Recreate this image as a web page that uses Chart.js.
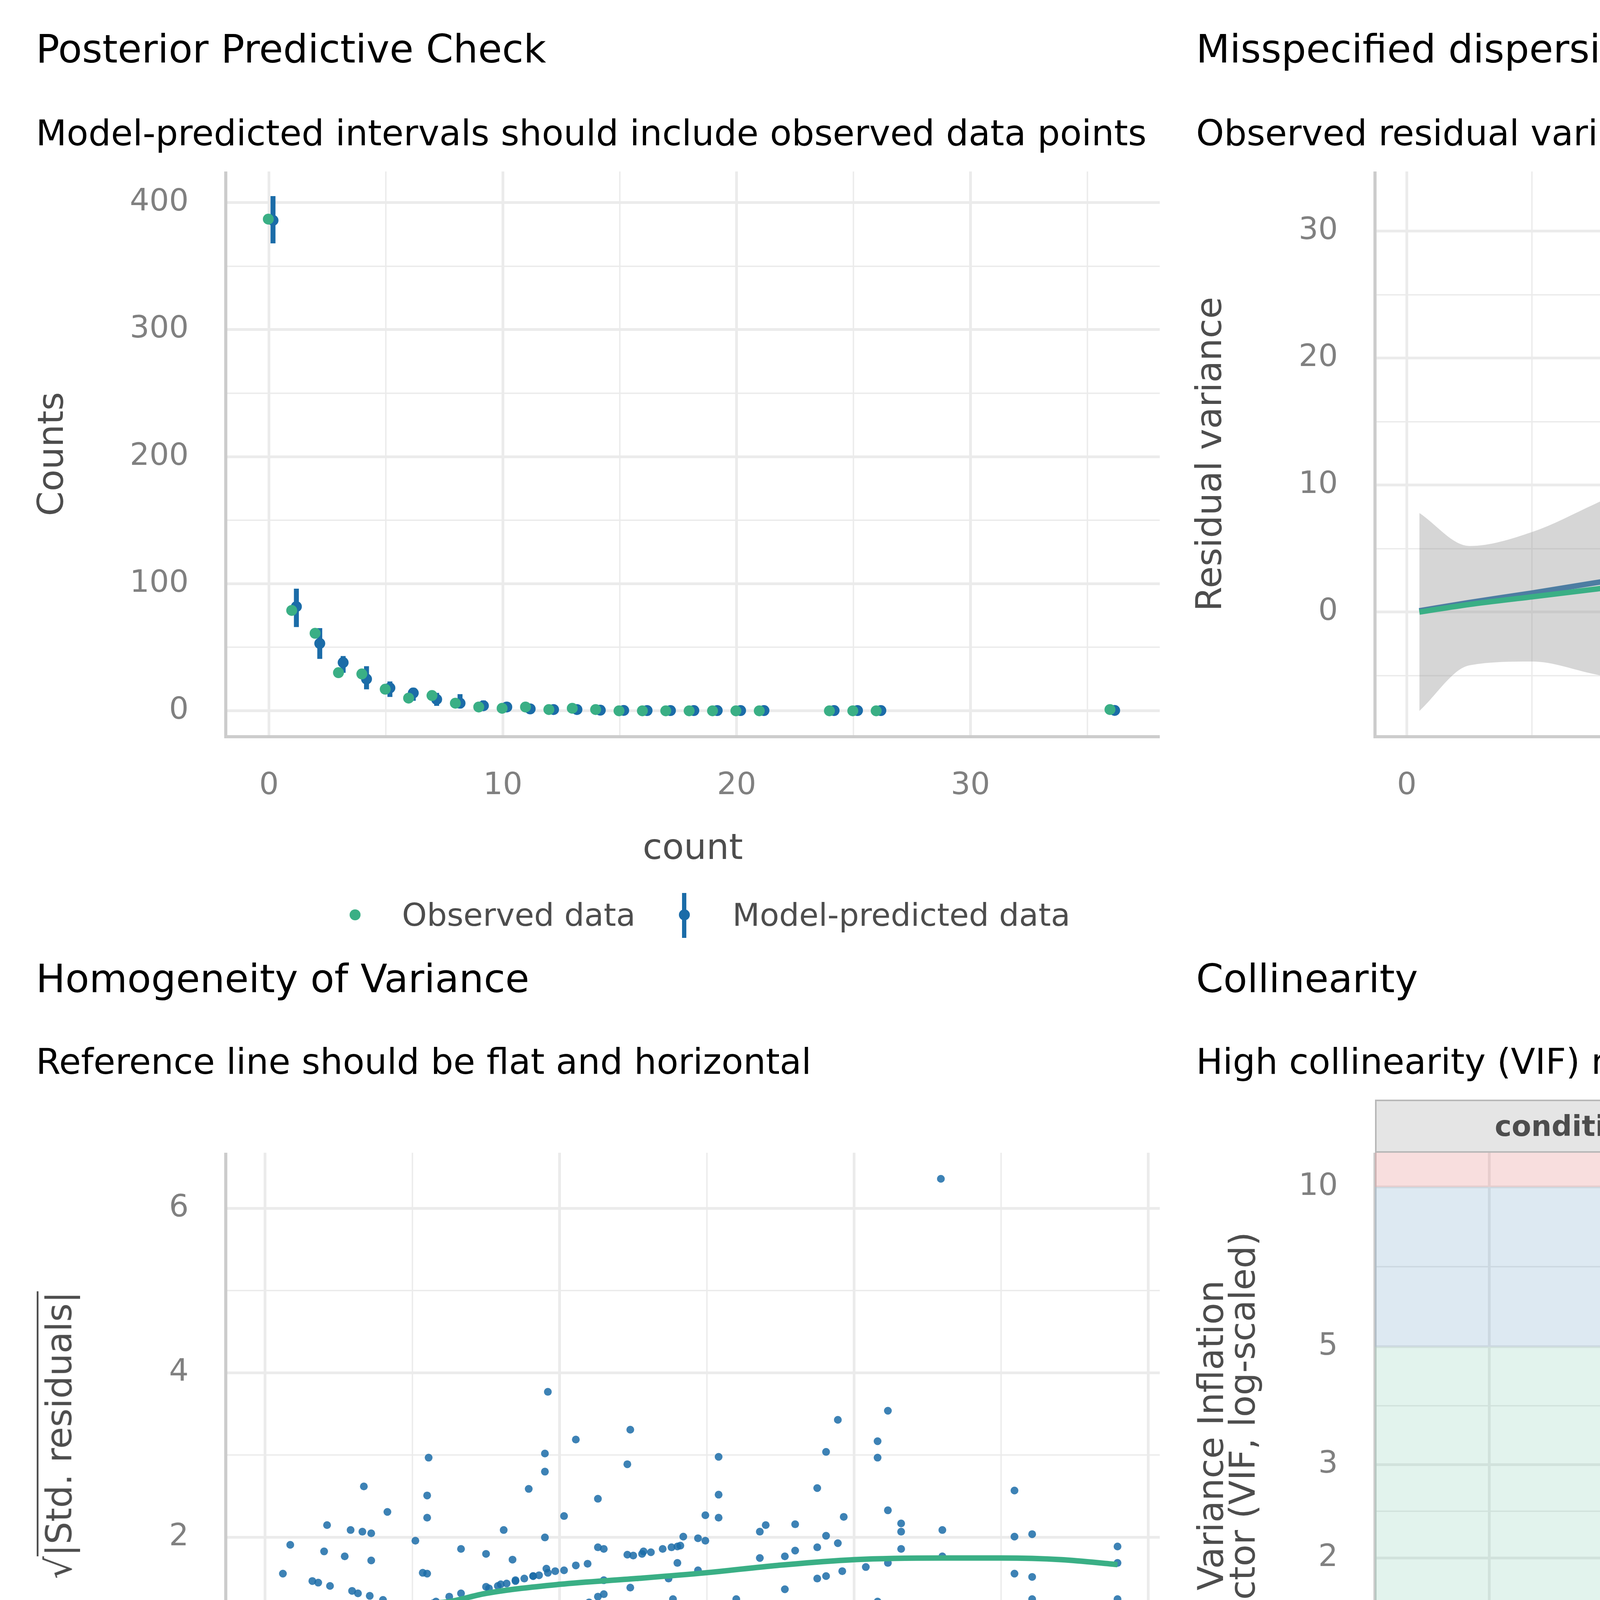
<!DOCTYPE html>
<html>
<head>
<meta charset="utf-8">
<script src="https://cdn.jsdelivr.net/npm/chart.js@4.4.1/dist/chart.umd.min.js"></script>
<style>
html, body { margin: 0; padding: 0; background: #fff; }
body { width: 6000px; height: 7200px; position: relative; overflow: hidden; font-family: 'DejaVu Sans', sans-serif; }
canvas { position: absolute; }
.t { position: absolute; white-space: nowrap; line-height: 1; color: #000; }
.title { font-size: 100px; }
.sub { font-size: 91px; }
.leg { position: absolute; white-space: nowrap; line-height: 1; font-size: 81px; color: #4d4d4d; }
.mark { position: absolute; }
.strip { position: absolute; box-sizing: border-box; background: #e5e5e5; border: 4px solid #b8b8b8;
         font-weight: bold; font-size: 73px; color: #4d4d4d; text-align: center; line-height: 128px; }
.ytitle { position: absolute; white-space: nowrap; line-height: 1; font-size: 91px; color: #4d4d4d;
          transform: translate(-50%, -50%) rotate(-90deg); }
</style>
</head>
<body>

<div class="t title" style="left:92px;top:76px">Posterior Predictive Check</div>
<div class="t sub" style="left:92px;top:295px">Model-predicted intervals should include observed data points</div>
<div class="t title" style="left:3062px;top:76px">Misspecified dispersion and zero-inflation</div>
<div class="t sub" style="left:3062px;top:295px">Observed residual variance (green) should follow predicted residual variance (blue)</div>

<div class="t title" style="left:92px;top:2456px">Homogeneity of Variance</div>
<div class="t sub" style="left:92px;top:2672px">Reference line should be flat and horizontal</div>
<div class="t title" style="left:3062px;top:2456px">Collinearity</div>
<div class="t sub" style="left:3062px;top:2672px">High collinearity (VIF) may inflate parameter uncertainty</div>

<div class="t title" style="left:92px;top:4969px">Distribution of Quantile Residuals</div>
<div class="t sub" style="left:92px;top:5182px">Dots should fall along the line</div>
<div class="t title" style="left:3062px;top:4969px">Normality of Random Effects (site)</div>
<div class="t sub" style="left:3062px;top:5182px">Dots should be plotted along the line</div>

<canvas id="ppc" width="2969" height="1791" style="left:0;top:439px"></canvas>
<canvas id="disp" width="2908" height="1791" style="left:3000px;top:439px"></canvas>
<canvas id="homo" width="2969" height="1791" style="left:0;top:2951px"></canvas>
<canvas id="vifCond" width="1592" height="1791" style="left:3000px;top:2951px"></canvas>
<canvas id="vifZi" width="1308" height="1791" style="left:4600px;top:2951px"></canvas>
<canvas id="qq" width="2969" height="1791" style="left:0;top:5325px"></canvas>
<canvas id="reqq" width="2908" height="1791" style="left:3000px;top:5325px"></canvas>

<div class="ytitle" style="left:151px;top:3674px">&#8730;<span style="text-decoration:overline;text-decoration-thickness:5px">|Std. residuals|</span></div>

<div class="strip" style="left:3520px;top:2815px;width:1072px;height:136px">conditional</div>
<div class="strip" style="left:4837px;top:2815px;width:1071px;height:136px">zero inflated</div>

<!-- legend, posterior predictive check -->
<div class="mark" style="left:895px;top:2328px;width:28px;height:28px;border-radius:50%;background:#3aaf85"></div>
<div class="leg" style="left:1029px;top:2302px">Observed data</div>
<div class="mark" style="left:1746px;top:2286px;width:11px;height:115px;background:#1b6ca8"></div>
<div class="mark" style="left:1738px;top:2328px;width:28px;height:28px;border-radius:50%;background:#1b6ca8"></div>
<div class="leg" style="left:1875px;top:2302px">Model-predicted data</div>

<!-- legend, collinearity -->
<div class="mark" style="left:4487px;top:4800px;width:11px;height:116px;background:#3aaf85"></div>
<div class="mark" style="left:4480px;top:4846px;width:24px;height:24px;border-radius:50%;background:#3aaf85"></div>
<div class="leg" style="left:4613px;top:4818px">Low (&lt; 5)</div>

<script>
// ================= DATA =================

// posterior predictive check
const ppcCount = [0, 1, 2, 3, 4, 5, 6, 7, 8, 9, 10, 11, 12, 13, 14, 15, 16, 17, 18, 19, 20, 21, 24, 25, 26, 36];
const ppcObserved = [387, 79, 61, 30, 29, 17, 10, 12, 6, 3, 2, 3, 1, 2, 1, 0, 0, 0, 0, 0, 0, 0, 0, 0, 0, 1];
const ppcPredicted = [386, 82, 53, 38, 25, 18, 14, 9, 6, 4, 3, 1.5, 1, 1, 0.5, 0.3, 0.2, 0.2, 0.2, 0.2, 0.2, 0.2, 0.2, 0.2, 0.2, 0.3];
const ppcLower = [368, 66, 41, 30, 17, 11, 8, 4, 2, 0, 0, 0, 0, 0, 0, 0, 0, 0, 0, 0, 0, 0, 0, 0, 0, 0];
const ppcUpper = [405, 96, 65, 43, 35, 23, 18, 14, 13, 8, 6, 4, 3, 3, 2, 1, 1, 1, 1, 1, 1, 1, 1, 1, 1, 1];

// dispersion
const dispMean = [0.05, 0.25, 0.5, 0.75, 1.0, 1.25, 1.5, 1.75, 1.9, 2.0, 2.1, 2.25, 2.5, 2.75, 3.0, 3.25, 3.42];
const dispObserved = [0.0, 0.6, 1.2, 1.8, 2.4, 2.6, 2.85, 3.35, 4.1, 4.8, 5.6, 7.0, 10.1, 13.6, 17.1, 20.0, 22.2];
const dispPredicted = [0.1, 0.75, 1.5, 2.3, 3.05, 3.8, 4.6, 5.35, 5.8, 6.1, 6.4, 6.85, 7.6, 8.35, 9.15, 9.9, 10.4];
const dispUpper = [7.8, 5.2, 6.3, 8.5, 10.8, 11.1, 10.4, 10.2, 10.9, 11.7, 12.6, 14.3, 17.1, 20.1, 23.7, 28.0, 32.7];
const dispLower = [-7.8, -4.2, -3.9, -4.9, -5.9, -6.1, -4.7, -3.4, -2.7, -2.2, -1.3, 0.4, 4.1, 7.7, 10.3, 11.8, 11.6];

// homogeneity of variance
const fittedValues = [
  4.59, 1.92, 3.89, 4.23, 2.48, 2.11, 4.16, 1.90, 1.11, 3.08, 3.81, 4.16, 2.46, 1.90, 0.67, 1.79, 3.75, 5.09, 1.10, 3.08,
  2.26, 4.23, 0.83, 1.10, 2.03, 2.99, 3.08, 3.93, 4.32, 0.42, 3.40, 3.60, 0.58, 0.66, 0.72, 1.62, 4.60, 4.32, 3.36, 1.90,
  2.84, 3.81, 5.09, 5.21, 1.02, 2.94, 2.99, 0.17, 5.79, 3.75, 3.89, 2.80, 1.33, 2.26, 2.30, 4.32, 3.60, 0.40, 2.57, 1.50,
  2.46, 0.54, 3.36, 1.68, 0.72, 3.53, 4.60, 5.79, 4.23, 2.80, 4.08, 1.91, 2.03, 3.92, 0.12, 1.07, 1.10, 5.09, 2.94, 2.11,
  2.19, 1.82, 5.21, 0.32, 0.36, 3.81, 3.75, 1.70, 2.30, 2.74, 0.44, 1.60, 1.50, 2.48, 3.53, 0.59, 0.63, 1.33, 0.71, 1.25,
  2.26, 2.30, 5.79, 5.21, 3.20, 2.77, 0.80, 4.16, 2.20, 1.16, 1.09, 2.13, 1.93, 3.07, 2.94, 2.99, 0.97, 1.02, 3.93, 4.08,
  0.13, 0.17, 1.10, 1.16, 2.04, 2.11, 1.89, 0.80, 1.79, 3.81, 4.16, 2.84, 2.77, 2.74, 5.21, 0.25, 0.32, 0.38, 1.32, 2.30,
  3.36, 3.53, 1.62, 2.59, 0.42, 3.40, 2.48, 1.50, 0.59, 1.54, 2.57, 1.61, 3.53, 3.36, 1.68, 0.66, 0.72, 2.72, 1.33, 1.25,
  2.26, 0.79, 1.79, 5.79, 4.23, 3.20, 3.81, 2.18, 1.16, 1.88, 1.11, 3.89, 5.09, 4.09, 3.08, 1.92, 1.95, 3.05, 0.97, 1.02,
  2.99,
  0.03, 0.05, 0.07, 0.09, 0.11, 0.13, 0.15, 0.18, 0.21, 0.24, 0.27, 0.30, 0.33, 0.36, 0.39, 0.42, 0.45, 0.48, 0.51, 0.54,
  0.57, 0.60, 0.63, 0.66, 0.69, 0.72, 0.76, 0.80, 0.85, 0.90, 0.95, 1.00, 1.05, 1.10, 1.14,
  1.52, 1.58, 1.64, 1.70, 1.76, 1.82, 1.86, 1.92, 1.97, 2.50, 2.56, 2.62, 2.70, 2.76, 2.82
];
const sqrtStdResid = [
  6.36, 3.77, 3.43, 3.54, 3.31, 3.19, 3.17, 3.02, 2.97, 2.98, 3.04, 2.97, 2.89, 2.80, 2.62, 2.59, 2.60, 2.57, 2.51, 2.52,
  2.47, 2.33, 2.31, 2.24, 2.26, 2.27, 2.24, 2.25, 2.17, 2.15, 2.15, 2.16, 2.09, 2.07, 2.05, 2.09, 2.09, 2.07, 2.07, 2.00,
  2.01, 2.02, 2.01, 2.04, 1.96, 1.99, 1.96, 1.91, 1.89, 1.88, 1.93, 1.89, 1.86, 1.88, 1.86, 1.86, 1.84, 1.83, 1.83, 1.80,
  1.79, 1.77, 1.75, 1.73, 1.72, 1.77, 1.77, 1.69, 1.69, 1.69, 1.64, 1.62, 1.60, 1.59, 1.56, 1.57, 1.56, 1.56, 1.60, 1.66,
  1.68, 1.53, 1.52, 1.47, 1.45, 1.53, 1.50, 1.48, 1.48, 1.50, 1.41, 1.43, 1.40, 1.39, 1.37, 1.35, 1.32, 1.32, 1.29, 1.28,
  1.28, 1.31, 1.25, 1.25, 1.25, 1.25, 1.24, 1.22, 1.21, 1.22, 1.18, 1.16, 1.18, 1.17, 1.17, 1.13, 1.14, 1.14, 1.10, 1.08,
  1.06, 1.04, 1.08, 1.04, 1.06, 1.06, 1.07, 1.03, 1.02, 1.03, 1.03, 1.05, 1.00, 0.98, 1.00, 0.97, 0.95, 0.91, 0.93, 0.95,
  0.95, 0.99, 0.89, 0.88, 0.86, 0.88, 0.81, 0.81, 0.73, 0.79, 0.75, 0.71, 0.76, 0.69, 0.63, 0.65, 0.60, 0.60, 0.65, 0.59,
  0.59, 0.51, 0.51, 0.52, 0.55, 0.52, 0.48, 0.49, 0.45, 0.39, 0.40, 0.37, 0.36, 0.35, 0.34, 0.30, 0.25, 0.26, 0.20, 0.18,
  0.11,
  0.18, 0.22, 0.27, 0.31, 0.35, 0.39, 0.42, 0.46, 0.50, 0.54, 0.58, 0.61, 0.65, 0.68, 0.71, 0.74, 0.77, 0.79, 0.82, 0.85,
  0.87, 0.89, 0.92, 0.94, 0.96, 0.98, 1.01, 1.03, 1.06, 1.09, 1.11, 1.13, 1.15, 1.18, 1.20,
  1.38, 1.41, 1.44, 1.47, 1.50, 1.53, 1.54, 1.57, 1.59, 1.78, 1.80, 1.82, 1.86, 1.88, 1.90
];
const loessX = [0.03, 0.23, 0.48, 0.74, 0.84, 1.04, 1.25, 1.5, 2.0, 2.52, 2.99, 3.48, 4.0, 4.6, 5.0, 5.41, 5.79];
const loessY = [0.28, 0.53, 0.82, 1.08, 1.13, 1.19, 1.22, 1.32, 1.43, 1.50, 1.57, 1.66, 1.73, 1.75, 1.75, 1.73, 1.67];

// collinearity
const vifTerms = ['mined', 'spp'];
const vifCondition = [1.06, 1.06];
const vifCondLow = [1.0, 1.0];
const vifCondHigh = [1.25, 1.25];
const vifZiLow = [1.0, 1.0];
const vifZiHigh = [Infinity, Infinity];
const vifBandEdges = [1, 5, 10];

// quantile residuals
const unifTheoretical = [
  0.000, 0.008, 0.016, 0.024, 0.032, 0.040, 0.048, 0.056, 0.064, 0.072, 0.080, 0.088, 0.096, 0.104, 0.112, 0.120,
  0.128, 0.136, 0.144, 0.152, 0.160, 0.168, 0.176, 0.184, 0.192, 0.200, 0.208, 0.216, 0.224, 0.232, 0.240, 0.248,
  0.256, 0.264, 0.272, 0.280, 0.288, 0.296, 0.304, 0.312, 0.320, 0.328, 0.336, 0.344, 0.352, 0.360, 0.368, 0.376,
  0.384, 0.392, 0.400, 0.408, 0.416, 0.424, 0.432, 0.440, 0.448, 0.456, 0.464, 0.472, 0.480, 0.488, 0.496, 0.504,
  0.512, 0.520, 0.528, 0.536, 0.544, 0.552, 0.560, 0.568, 0.576, 0.584, 0.592, 0.600, 0.608, 0.616, 0.624, 0.632,
  0.640, 0.648, 0.656, 0.664, 0.672, 0.680, 0.688, 0.696, 0.704, 0.712, 0.720, 0.728, 0.736, 0.744, 0.752, 0.760,
  0.768, 0.776, 0.784, 0.792, 0.800, 0.808, 0.816, 0.824, 0.832, 0.840, 0.848, 0.856, 0.864, 0.872, 0.880, 0.888,
  0.896, 0.904, 0.912, 0.920, 0.928, 0.936, 0.944, 0.952, 0.960, 0.968, 0.976, 0.984, 0.992, 1.000
];
const unifSample = [
  0.000, 0.009, 0.016, 0.022, 0.029, 0.040, 0.050, 0.060, 0.067, 0.076, 0.087, 0.095, 0.101, 0.106, 0.124, 0.133,
  0.138, 0.142, 0.145, 0.153, 0.160, 0.167, 0.172, 0.183, 0.191, 0.198, 0.204, 0.210, 0.215, 0.221, 0.229, 0.245,
  0.255, 0.263, 0.270, 0.276, 0.282, 0.289, 0.298, 0.309, 0.322, 0.333, 0.346, 0.357, 0.365, 0.372, 0.383, 0.391,
  0.398, 0.409, 0.417, 0.422, 0.426, 0.428, 0.435, 0.444, 0.458, 0.470, 0.478, 0.484, 0.491, 0.497, 0.507, 0.520,
  0.530, 0.537, 0.542, 0.552, 0.562, 0.569, 0.576, 0.584, 0.591, 0.598, 0.605, 0.613, 0.619, 0.628, 0.638, 0.650,
  0.657, 0.663, 0.670, 0.675, 0.683, 0.690, 0.697, 0.704, 0.711, 0.715, 0.719, 0.726, 0.731, 0.738, 0.742, 0.748,
  0.753, 0.764, 0.775, 0.786, 0.797, 0.805, 0.810, 0.815, 0.820, 0.823, 0.828, 0.838, 0.852, 0.868, 0.877, 0.882,
  0.887, 0.894, 0.903, 0.919, 0.929, 0.937, 0.947, 0.955, 0.962, 0.969, 0.974, 0.982, 0.988, 1.000
];
const unifBandX = [0, 0.1, 0.25, 0.5, 0.75, 0.9, 1.0];
const unifBandUpper = [0.0, 0.12, 0.28, 0.535, 0.775, 0.915, 1.0];
const unifBandLower = [0.0, 0.08, 0.22, 0.465, 0.725, 0.885, 1.0];
const unifLine = [0, 1];

// random effects
const reTheoretical = [-2.02, -1.515, -1.237, -1.03, -0.86, -0.71, -0.576, -0.452, -0.334, -0.217, -0.107, 0, 0.11,
                       0.22, 0.33, 0.447, 0.575, 0.707, 0.856, 1.027, 1.233, 1.51, 2.015];
const reSample = [-0.583, -0.528, -0.398, -0.285, -0.274, -0.268, -0.223, -0.213, -0.134, -0.1, -0.062, -0.003, 0.017,
                  0.113, 0.141, 0.185, 0.199, 0.216, 0.233, 0.398, 0.525, 0.545, 1.01];
const reLower = [-1.115, -1.334, -1.156, -0.744, -1.0, -0.995, -0.683, -0.665, -0.834, -0.552, -0.504, -0.696, -0.679,
                 -0.573, -0.281, -0.518, -0.226, -0.206, -0.182, -0.017, 0.13, -0.161, 0.285];
const reUpper = [-0.05, 0.278, 0.36, 0.168, 0.443, 0.453, 0.233, 0.24, 0.563, 0.346, 0.374, 0.683, 0.707,
                 0.796, 0.559, 0.878, 0.617, 0.628, 0.645, 0.813, 0.916, 1.25, 1.736];
const reLineX = [-2.02, 2.015];
const reLineY = [-0.725, 0.763];
const reBandX = [-2.02, -1, 0, 1, 2.015];
const reBandUpper = [-0.67, -0.33, 0.02, 0.39, 0.82];
const reBandLower = [-0.78, -0.4, -0.02, 0.33, 0.71];

// ================= STYLE =================

const GREEN = '#3aaf85';
const BLUE = '#1b6ca8';
const GRID = '#ebebeb';
const AXIS = '#cccccc';
const TICK = '#808080';
const LABEL = '#4d4d4d';

Chart.defaults.font.family = "'DejaVu Sans', sans-serif";
Chart.defaults.animation = false;
Chart.defaults.plugins.legend.display = false;
Chart.defaults.plugins.tooltip.enabled = false;

const xy = (xs, ys) => xs.map((x, i) => ({ x: x, y: ys[i] }));

// one axis with major + minor grid lines, fixed size so plot panels line up
function axis(dir, opts) {
    const major = opts.major;
    const minor = opts.minor || [];
    const labels = opts.labels || major.map(String);
    return {
        type: opts.type || 'linear',
        min: opts.min,
        max: opts.max,
        offset: false,
        beginAtZero: false,
        afterBuildTicks: s => { s.ticks = major.concat(minor).map(v => ({ value: v })); },
        afterFit: s => {
            if (dir === 'x') { s.height = opts.size; s.paddingLeft = 0; s.paddingRight = 0; }
            else { s.width = opts.size; s.paddingTop = 0; s.paddingBottom = 0; }
        },
        grid: {
            offset: false,
            color: GRID,
            lineWidth: ctx => (ctx.tick && major.includes(ctx.tick.value)) ? 7 : 3.5,
            drawTicks: false
        },
        border: { display: true, color: AXIS, width: 8 },
        ticks: {
            autoSkip: false,
            maxRotation: 0,
            padding: dir === 'x' ? 79 : 95,
            color: TICK,
            font: { size: 79 },
            callback: v => { const i = major.indexOf(v); return i < 0 ? '' : labels[i]; }
        },
        title: opts.title ? {
            display: true,
            text: opts.title,
            color: LABEL,
            font: { size: 91, lineHeight: opts.lineHeight || 1.2 },
            padding: { top: opts.titlePad || 0, bottom: 0 }
        } : { display: false }
    };
}

function baseOptions(x, y) {
    return {
        responsive: false,
        maintainAspectRatio: false,
        devicePixelRatio: 1,
        layout: { padding: 0, autoPadding: false },
        scales: { x: x, y: y }
    };
}

// ================= POSTERIOR PREDICTIVE CHECK =================

const PRED_SHIFT = 0.17;
const OBS_SHIFT = -0.03;

new Chart(document.getElementById('ppc'), {
    type: 'scatter',
    data: {
        datasets: [
            {
                type: 'bar',
                data: ppcCount.map((c, i) => ({ x: c + PRED_SHIFT, y: [ppcLower[i], ppcUpper[i]] })),
                backgroundColor: BLUE, barThickness: 12, grouped: false, borderWidth: 0, order: 3
            },
            {
                data: ppcCount.map((c, i) => ({ x: c + PRED_SHIFT, y: ppcPredicted[i] })),
                backgroundColor: BLUE, pointRadius: 14, borderWidth: 0, order: 2
            },
            {
                data: ppcCount.map((c, i) => ({ x: c + OBS_SHIFT, y: ppcObserved[i] })),
                backgroundColor: GREEN, pointRadius: 14, borderWidth: 0, order: 1
            }
        ]
    },
    options: baseOptions(
        axis('x', { min: -1.85, max: 38.1, major: [0, 10, 20, 30], minor: [5, 15, 25, 35], size: 344, title: 'count' }),
        axis('y', { min: -20.4, max: 424.5, major: [0, 100, 200, 300, 400], minor: [50, 150, 250, 350],
                    size: 578, title: 'Counts', titlePad: 83 })
    )
});

// ================= DISPERSION =================

new Chart(document.getElementById('disp'), {
    type: 'scatter',
    data: {
        datasets: [
            {
                type: 'line', data: xy(dispMean, dispPredicted), borderColor: BLUE, borderWidth: 14,
                pointRadius: 0, cubicInterpolationMode: 'monotone', order: 4
            },
            {
                type: 'line', data: xy(dispMean, dispUpper), borderColor: 'rgba(0,0,0,0)', borderWidth: 0,
                pointRadius: 0, fill: '+1', backgroundColor: 'rgba(153,153,153,0.4)',
                cubicInterpolationMode: 'monotone', order: 3
            },
            {
                type: 'line', data: xy(dispMean, dispLower), borderColor: 'rgba(0,0,0,0)', borderWidth: 0,
                pointRadius: 0, fill: false, cubicInterpolationMode: 'monotone', order: 3
            },
            {
                type: 'line', data: xy(dispMean, dispObserved), borderColor: GREEN, borderWidth: 14,
                pointRadius: 0, cubicInterpolationMode: 'monotone', order: 1
            }
        ]
    },
    options: baseOptions(
        axis('x', { min: -0.127, max: 3.597, major: [0, 1, 2, 3], minor: [0.5, 1.5, 2.5, 3.5], size: 344,
                    title: 'Predicted mean' }),
        axis('y', { min: -9.82, max: 34.7, major: [0, 10, 20, 30], minor: [-5, 5, 15, 25], size: 520,
                    title: 'Residual variance', titlePad: 48 })
    )
});

// ================= HOMOGENEITY OF VARIANCE =================

new Chart(document.getElementById('homo'), {
    type: 'scatter',
    data: {
        datasets: [
            {
                data: xy(fittedValues, sqrtStdResid), backgroundColor: 'rgba(27,108,168,0.85)',
                pointRadius: 10, borderWidth: 0, order: 2
            },
            {
                type: 'line', data: xy(loessX, loessY), borderColor: GREEN, borderWidth: 14,
                pointRadius: 0, cubicInterpolationMode: 'monotone', order: 1
            }
        ]
    },
    options: baseOptions(
        axis('x', { min: -0.268, max: 6.077, major: [0, 2, 4, 6], minor: [1, 3, 5], size: 344, title: 'Fitted values' }),
        axis('y', { min: -0.195, max: 6.677, major: [0, 2, 4, 6], minor: [1, 3, 5], size: 578 })
    )
});

// ================= COLLINEARITY =================

const VIF_MAX = 11.6;
const VIF_ARROW = 11.2;

const vifBands = {
    id: 'vifBands',
    beforeDatasetsDraw(chart) {
        const { ctx, chartArea: a, scales: { y } } = chart;
        const colors = ['rgba(58,175,133,0.15)', 'rgba(27,108,168,0.15)', 'rgba(205,32,31,0.15)'];
        vifBandEdges.forEach((lo, i) => {
            const hi = i + 1 < vifBandEdges.length ? vifBandEdges[i + 1] : y.max;
            const top = y.getPixelForValue(hi);
            const bottom = y.getPixelForValue(lo);
            ctx.fillStyle = colors[i];
            ctx.fillRect(a.left, top, a.right - a.left, bottom - top);
        });
    }
};

function vifAxes(yWidth, title) {
    return baseOptions(
        axis('x', { min: 0.4, max: 2.6, major: [1, 2], labels: vifTerms, size: 344 }),
        axis('y', { type: 'logarithmic', min: 1, max: VIF_MAX, major: [1, 2, 3, 5, 10],
                    minor: [1.414, 2.449, 3.873, 7.071], size: yWidth,
                    title: title, titlePad: 66, lineHeight: 0.9 })
    );
}

new Chart(document.getElementById('vifCond'), {
    type: 'scatter',
    data: {
        datasets: [
            {
                type: 'bar',
                data: vifTerms.map((t, i) => ({ x: i + 1, y: [vifCondLow[i], vifCondHigh[i]] })),
                backgroundColor: GREEN, barThickness: 11, grouped: false, borderWidth: 0, order: 2
            },
            {
                data: vifTerms.map((t, i) => ({ x: i + 1, y: vifCondition[i] })),
                backgroundColor: GREEN, pointRadius: 13, borderWidth: 0, order: 1
            }
        ]
    },
    options: vifAxes(520, ['Variance Inflation', 'Factor (VIF, log-scaled)']),
    plugins: [vifBands]
});

new Chart(document.getElementById('vifZi'), {
    type: 'scatter',
    data: {
        datasets: [
            {
                type: 'bar',
                data: vifTerms.map((t, i) => ({ x: i + 1, y: [vifZiLow[i], Math.min(vifZiHigh[i], VIF_MAX)] })),
                backgroundColor: GREEN, barThickness: 11, grouped: false, borderWidth: 0, order: 2
            },
            {
                data: vifTerms.map((t, i) => ({ x: i + 1, y: VIF_ARROW })),
                backgroundColor: GREEN, pointStyle: 'triangle', pointRadius: 22, borderWidth: 0, order: 1
            }
        ]
    },
    options: vifAxes(237, null),
    plugins: [vifBands]
});

// ================= QUANTILE RESIDUALS =================

new Chart(document.getElementById('qq'), {
    type: 'scatter',
    data: {
        datasets: [
            {
                type: 'line', data: xy(unifBandX, unifBandUpper), borderColor: 'rgba(0,0,0,0)', borderWidth: 0,
                pointRadius: 0, fill: '+1', backgroundColor: 'rgba(153,153,153,0.22)',
                cubicInterpolationMode: 'monotone', order: 4
            },
            {
                type: 'line', data: xy(unifBandX, unifBandLower), borderColor: 'rgba(0,0,0,0)', borderWidth: 0,
                pointRadius: 0, fill: false, cubicInterpolationMode: 'monotone', order: 4
            },
            {
                type: 'line', data: xy(unifLine, unifLine), borderColor: GREEN, borderWidth: 14,
                pointRadius: 0, order: 3
            },
            {
                data: xy(unifTheoretical, unifSample), backgroundColor: BLUE, pointRadius: 15,
                borderWidth: 0, order: 1
            }
        ]
    },
    options: baseOptions(
        axis('x', { min: -0.05, max: 1.05, major: [0, 0.25, 0.5, 0.75, 1], minor: [0.125, 0.375, 0.625, 0.875],
                    labels: ['0.00', '0.25', '0.50', '0.75', '1.00'], size: 344,
                    title: 'Standard Uniform Distribution Quantiles' }),
        axis('y', { min: -0.05, max: 1.05, major: [0, 0.25, 0.5, 0.75, 1], minor: [0.125, 0.375, 0.625, 0.875],
                    labels: ['0.00', '0.25', '0.50', '0.75', '1.00'], size: 578,
                    title: 'Sample Quantiles', titlePad: 83 })
    )
});

// ================= RANDOM EFFECTS =================

new Chart(document.getElementById('reqq'), {
    type: 'scatter',
    data: {
        datasets: [
            {
                type: 'line', data: xy(reBandX, reBandUpper), borderColor: 'rgba(0,0,0,0)', borderWidth: 0,
                pointRadius: 0, fill: '+1', backgroundColor: 'rgba(153,153,153,0.2)', order: 5
            },
            {
                type: 'line', data: xy(reBandX, reBandLower), borderColor: 'rgba(0,0,0,0)', borderWidth: 0,
                pointRadius: 0, fill: false, order: 5
            },
            {
                type: 'line', data: xy(reLineX, reLineY), borderColor: GREEN, borderWidth: 14,
                pointRadius: 0, order: 4
            },
            {
                type: 'bar',
                data: reTheoretical.map((q, i) => ({ x: q, y: [reLower[i], reUpper[i]] })),
                backgroundColor: 'rgba(27,108,168,0.85)', barThickness: 9, grouped: false, borderWidth: 0, order: 2
            },
            {
                data: xy(reTheoretical, reSample), backgroundColor: 'rgba(27,108,168,0.85)',
                pointRadius: 10, borderWidth: 0, order: 1
            }
        ]
    },
    options: baseOptions(
        axis('x', { min: -2.22, max: 2.219, major: [-2, -1, 0, 1, 2], minor: [-1.5, -0.5, 0.5, 1.5], size: 344,
                    title: 'Theoretical Quantiles' }),
        axis('y', { min: -1.488, max: 1.898, major: [-1, 0, 1], minor: [-0.5, 0.5, 1.5], size: 520,
                    title: 'RE Quantiles', titlePad: 48 })
    )
});
</script>
</body>
</html>
